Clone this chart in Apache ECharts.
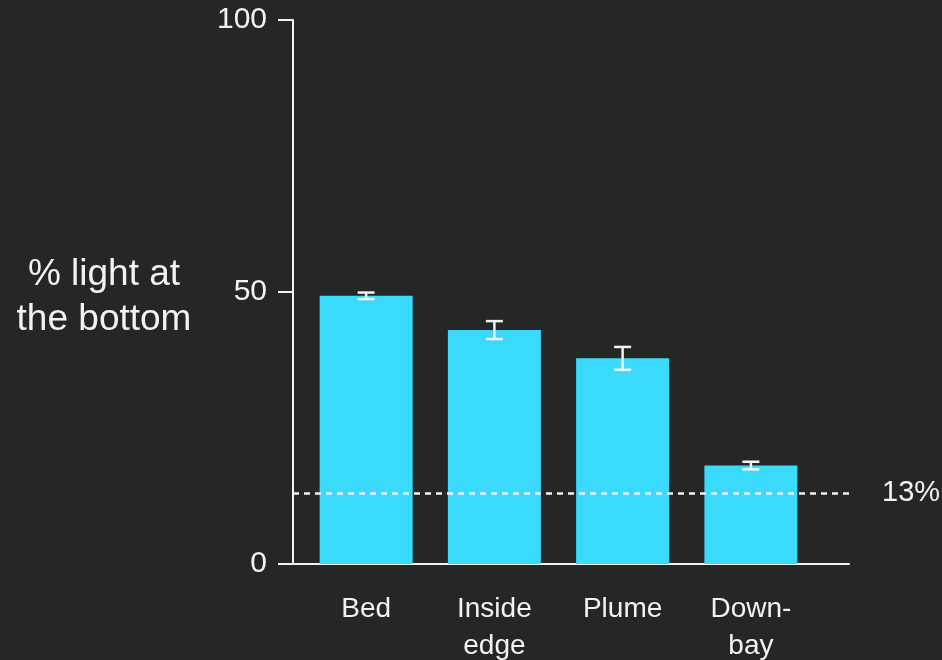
<!DOCTYPE html>
<html>
<head>
<meta charset="utf-8">
<script src="https://cdn.jsdelivr.net/npm/echarts@6/dist/echarts.min.js"></script>
<style>
  html, body { margin: 0; padding: 0; background: #262626; }
  #chart { width: 942px; height: 660px; }
</style>
</head>
<body>
<div id="chart"></div>
<script>
// Light reaching the bottom at each site (mean ± error)
const categories = ['Bed', 'Inside\nedge', 'Plume', 'Down-\nbay'];
const means = [49.3, 43.0, 37.8, 18.1];
const errors = [0.6, 1.65, 2.1, 0.7];
const threshold = 13;
const yTicks = [0, 50, 100];

const FONT = '"Liberation Sans", Arial, Helvetica, sans-serif';
const FG = '#f2f2f2';
const BAR = '#3adafd';

const chart = echarts.init(document.getElementById('chart'), null, { renderer: 'canvas' });

const errorData = means.map((m, i) => [i, m - errors[i], m + errors[i]]);

chart.setOption({
  backgroundColor: '#262626',
  animation: false,
  textStyle: { fontFamily: FONT },
  grid: [
    // bars
    { left: 302, right: 127, top: 20, bottom: 96, outerBoundsMode: 'none', containLabel: false },
    // axes frame
    { left: 293, right: 93, top: 20, bottom: 96, outerBoundsMode: 'none', containLabel: false }
  ],
  graphic: [{
    type: 'text',
    x: 104, y: 297,
    style: {
      text: '% light at\nthe bottom',
      fill: FG,
      font: '37px ' + FONT,
      lineHeight: 45,
      align: 'center',
      verticalAlign: 'middle'
    }
  }],
  xAxis: [
    {
      type: 'category', gridIndex: 0, data: categories,
      axisLine: { show: false }, axisTick: { show: false },
      axisLabel: { color: FG, fontSize: 28, lineHeight: 37, margin: 27, fontFamily: FONT, interval: 0 }
    },
    {
      type: 'value', gridIndex: 1, min: 0, max: 1,
      axisLine: { show: true, lineStyle: { color: FG, width: 2 } },
      axisTick: { show: false }, axisLabel: { show: false }, splitLine: { show: false }
    }
  ],
  yAxis: [
    { type: 'value', gridIndex: 0, min: 0, max: 100, show: false },
    {
      type: 'value', gridIndex: 1, min: yTicks[0], max: yTicks[yTicks.length - 1], interval: 50,
      axisLine: { show: true, lineStyle: { color: FG, width: 2 } },
      axisTick: { show: true, length: 15, lineStyle: { color: FG, width: 2 } },
      axisLabel: { color: FG, fontSize: 30, margin: 26, fontFamily: FONT },
      splitLine: { show: false }
    }
  ],
  series: [
    {
      type: 'bar', xAxisIndex: 0, yAxisIndex: 0,
      data: means, barWidth: 93,
      itemStyle: { color: BAR }
    },
    {
      type: 'custom', xAxisIndex: 0, yAxisIndex: 0,
      data: errorData,
      renderItem: function (params, api) {
        const x = api.value(0);
        const lo = api.coord([x, api.value(1)]);
        const hi = api.coord([x, api.value(2)]);
        const half = 8.5;
        const style = { stroke: FG, lineWidth: 2.5 };
        return {
          type: 'group',
          children: [
            { type: 'line', shape: { x1: lo[0], y1: lo[1], x2: hi[0], y2: hi[1] }, style },
            { type: 'line', shape: { x1: lo[0] - half, y1: lo[1], x2: lo[0] + half, y2: lo[1] }, style },
            { type: 'line', shape: { x1: hi[0] - half, y1: hi[1], x2: hi[0] + half, y2: hi[1] }, style }
          ]
        };
      },
      z: 5
    },
    {
      type: 'line', xAxisIndex: 1, yAxisIndex: 1, data: [],
      markLine: {
        silent: true, symbol: 'none',
        data: [{ yAxis: threshold }],
        lineStyle: { color: FG, width: 2.5, type: [6, 5] },
        label: {
          show: true, position: 'end', distance: 33,
          formatter: threshold + '%', color: FG, fontSize: 29, fontFamily: FONT
        }
      },
      z: 6
    }
  ]
});
</script>
</body>
</html>
